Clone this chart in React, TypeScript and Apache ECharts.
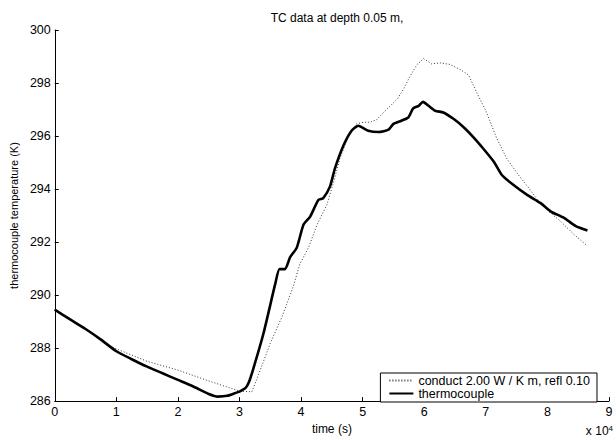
import React, { useEffect, useRef } from "react";
import * as echarts from "echarts";

// time in units of 1e4 s
const tcTime = [0, 0.25, 0.5, 0.75, 1.0, 1.25, 1.5, 1.75, 2.0, 2.25, 2.5, 2.65, 2.8, 2.95, 3.0, 3.1, 3.15, 3.22, 3.39, 3.58, 3.65, 3.74, 3.82, 3.93, 4.04, 4.15, 4.28, 4.36, 4.47, 4.55, 4.69, 4.82, 4.93, 5.09, 5.26, 5.42, 5.5, 5.61, 5.74, 5.82, 5.91, 5.98, 6.07, 6.18, 6.31, 6.48, 6.64, 6.8, 6.96, 7.13, 7.26, 7.45, 7.67, 7.89, 8.05, 8.27, 8.46, 8.65];
const tcTemp = [289.45, 289.08, 288.72, 288.32, 287.88, 287.58, 287.3, 287.05, 286.8, 286.55, 286.27, 286.17, 286.2, 286.32, 286.36, 286.5, 286.7, 287.19, 288.56, 290.42, 290.98, 290.98, 291.42, 291.79, 292.66, 292.97, 293.59, 293.66, 294.1, 294.78, 295.65, 296.2, 296.39, 296.2, 296.15, 296.24, 296.46, 296.56, 296.7, 297.04, 297.14, 297.29, 297.14, 296.95, 296.89, 296.64, 296.33, 295.95, 295.52, 295.03, 294.53, 294.15, 293.78, 293.47, 293.16, 292.91, 292.6, 292.44];

const modelTime = [0, 0.5, 0.8, 1.0, 1.5, 2.0, 2.5, 3.0, 3.2, 3.28, 3.5, 3.69, 3.87, 3.98, 4.12, 4.26, 4.42, 4.53, 4.63, 4.77, 4.9, 5.01, 5.12, 5.23, 5.34, 5.45, 5.56, 5.66, 5.77, 5.88, 5.99, 6.12, 6.26, 6.42, 6.59, 6.72, 6.85, 7.0, 7.18, 7.34, 7.53, 7.7, 7.86, 8.02, 8.21, 8.43, 8.65];
const modelTemp = [289.45, 288.72, 288.2, 287.97, 287.5, 287.17, 286.76, 286.38, 286.35, 286.82, 288.18, 289.18, 290.3, 291.17, 291.79, 292.66, 293.41, 294.28, 295.15, 296.02, 296.46, 296.52, 296.52, 296.62, 296.89, 297.14, 297.39, 297.76, 298.26, 298.69, 298.92, 298.72, 298.76, 298.7, 298.5, 298.3, 297.65, 296.95, 295.9, 295.15, 294.53, 294.03, 293.53, 293.16, 292.79, 292.29, 291.85];

const xTicks = [0, 1, 2, 3, 4, 5, 6, 7, 8, 9];
const yTicks = [286, 288, 290, 292, 294, 296, 298, 300];

const titleText = "TC data at depth 0.05 m,";
const modelName = "conduct 2.00 W / K m, refl 0.10";
const tcName = "thermocouple";

const FONT = "'Liberation Sans', Arial, sans-serif";

export default function App() {
  const ref = useRef<HTMLDivElement>(null);
  useEffect(() => {
    if (!ref.current) return;
    const chart = echarts.init(ref.current, null, { renderer: "svg" });
    const toPairs = (t: number[], v: number[]) => t.map((x, i) => [x * 10000, v[i]]);
    chart.setOption({
      animation: false,
      backgroundColor: "#fff",
      textStyle: { fontFamily: FONT, color: "#000" },
      title: {
        text: titleText,
        left: 332,
        top: 7,
        textAlign: "center",
        textStyle: { fontSize: 12, fontWeight: "normal", color: "#000", fontFamily: FONT },
      },
      grid: { left: 53, right: 7, top: 30, bottom: 35, containLabel: false },
      xAxis: {
        type: "value",
        min: xTicks[0] * 10000,
        max: xTicks[xTicks.length - 1] * 10000,
        interval: 10000,
        name: "time (s)",
        nameLocation: "middle",
        nameGap: 18,
        nameTextStyle: { fontSize: 12, color: "#000", fontFamily: FONT },
        axisLine: { show: true, lineStyle: { color: "#000", width: 1 } },
        axisTick: { show: true, inside: true, length: 4, lineStyle: { color: "#000" } },
        axisLabel: { fontSize: 12.5, color: "#000", margin: 4, formatter: (v: number) => String(v / 10000) },
        splitLine: { show: false },
      },
      yAxis: {
        type: "value",
        min: yTicks[0],
        max: yTicks[yTicks.length - 1],
        interval: 2,
        name: "thermocouple temperature (K)",
        nameLocation: "middle",
        nameGap: 32,
        nameTextStyle: { fontSize: 11, color: "#000", fontFamily: FONT },
        axisLine: { show: true, lineStyle: { color: "#000", width: 1 } },
        axisTick: { show: true, inside: true, length: 4, lineStyle: { color: "#000" } },
        axisLabel: { fontSize: 12.5, color: "#000", margin: 4 },
        splitLine: { show: false },
      },
      legend: {
        orient: "vertical",
        right: 19,
        bottom: 38,
        backgroundColor: "#fff",
        borderColor: "#000",
        borderWidth: 1,
        borderRadius: 0,
        padding: [1, 7, 2, 8],
        itemGap: 0,
        itemWidth: 24,
        itemHeight: 10,
        itemStyle: { opacity: 0 },
        textStyle: { fontSize: 12.5, lineHeight: 13, color: "#000", fontFamily: FONT },
        data: [modelName, tcName],
      },
      graphic: [
        {
          type: "text",
          right: 3,
          top: 424,
          style: {
            text: "x 10{s|4}",
            fill: "#000",
            font: "12px " + FONT,
            rich: { s: { fontSize: 8, verticalAlign: "top", padding: [0, 0, 6, 0] } },
          },
        },
      ],
      series: [
        {
          name: modelName,
          type: "line",
          data: toPairs(modelTime, modelTemp),
          symbol: "none",
          smooth: false,
          lineStyle: { color: "#333", width: 1, type: [1, 2] },
          itemStyle: { color: "#333" },
          z: 2,
        },
        {
          name: tcName,
          type: "line",
          data: toPairs(tcTime, tcTemp),
          symbol: "none",
          smooth: 0.2,
          lineStyle: { color: "#000", width: 2.6 },
          itemStyle: { color: "#000" },
          z: 3,
        },
      ],
    });
    return () => chart.dispose();
  }, []);
  return (
    <div
      ref={ref}
      style={{ position: "fixed", left: 0, top: 0, width: 616, height: 440 }}
    />
  );
}
